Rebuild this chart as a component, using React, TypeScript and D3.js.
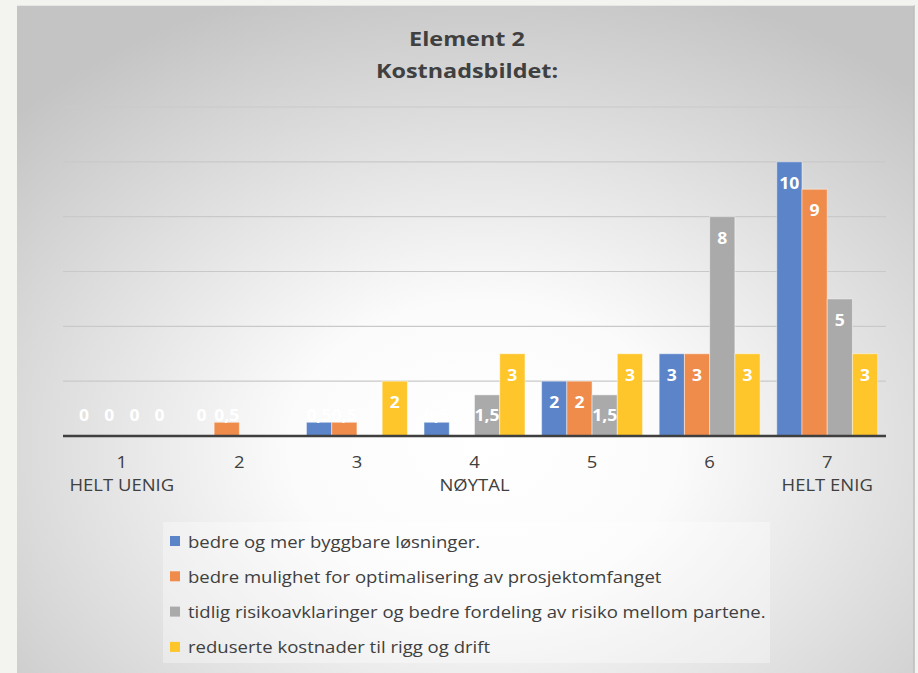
import React from "react";
import * as d3 from "d3";

const categories = ["1", "2", "3", "4", "5", "6", "7"];
const subLabels = ["HELT UENIG", "", "", "NØYTAL", "", "", "HELT ENIG"];
const seriesNames = [
  "bedre og mer byggbare løsninger.",
  "bedre mulighet for optimalisering av prosjektomfanget",
  "tidlig risikoavklaringer og bedre fordeling av risiko mellom partene.",
  "reduserte kostnader til rigg og drift",
];
const seriesColors = ["#5b84c9", "#ef8c4c", "#aaaaaa", "#fec62a"];
const s1: (number | null)[] = [0, 0, 0.5, 0.5, 2, 3, 10];
const s2: (number | null)[] = [0, 0.5, 0.5, null, 2, 3, 9];
const s3: (number | null)[] = [0, null, null, 1.5, 1.5, 8, 5];
const s4: (number | null)[] = [0, null, 2, 3, 3, 3, 3];
const seriesValues = [s1, s2, s3, s4];
const yTicks = [0, 2, 4, 6, 8, 10, 12];
const titleLines = ["Element 2", "Kostnadsbildet:"];

const W = 918;
const H = 673;
const FONT = "'Open Sans', 'DejaVu Sans', sans-serif";

function T(props: {
  x: number;
  y: number;
  sx: number;
  size: number;
  weight?: number;
  fill: string;
  anchor?: string;
  children: React.ReactNode;
}) {
  return (
    <text
      transform={`translate(${props.x},${props.y}) scale(${props.sx},1)`}
      textAnchor={props.anchor || "start"}
      dominantBaseline="central"
      fontFamily={FONT}
      fontWeight={props.weight || 400}
      fontSize={props.size}
      fill={props.fill}
    >
      {props.children}
    </text>
  );
}

export default function App() {
  const x = d3.scaleBand<string>().domain(categories).range([63, 886]).padding(0);
  const xi = d3
    .scaleBand<number>()
    .domain([0, 1, 2, 3])
    .range([0, x.bandwidth()])
    .paddingInner(0)
    .paddingOuter(0.33);
  const y = d3.scaleLinear().domain([0, 12]).range([436, 107]);
  const fmt = (v: number) => String(v).replace(".", ",");

  return (
    <svg
      width={W}
      height={H}
      style={{ position: "absolute", left: 0, top: 0 }}
      viewBox={`0 0 ${W} ${H}`}
    >
      <defs>
        <radialGradient id="bg" cx="0.52" cy="0.66" r="0.72" fx="0.52" fy="0.66">
          <stop offset="0" stopColor="#ffffff" />
          <stop offset="0.3" stopColor="#fbfbfb" />
          <stop offset="1" stopColor="#c4c4c4" />
        </radialGradient>
      </defs>
      <rect x={0} y={0} width={W} height={H} fill="#f3f4ef" />
      <rect x={17} y={5} width={897} height={H - 5} fill="url(#bg)" />
      <line x1={914} x2={914} y1={5} y2={H} stroke="#bcbcbc" strokeWidth={1.5} />
      <line x1={17} x2={914} y1={5.5} y2={5.5} stroke="#e6e6e6" strokeWidth={1} />

      {titleLines.map((t, i) => (
        <T key={t} x={467} y={38 + i * 32} sx={1.17} size={20} weight={700} fill="#404040" anchor="middle">
          {t}
        </T>
      ))}

      {yTicks.slice(1).map((t) => (
        <line
          key={t}
          x1={63}
          x2={886}
          y1={y(t)}
          y2={y(t)}
          stroke="#c9c9c9"
          strokeWidth={1.2}
        />
      ))}

      {seriesValues.map((vals, si) =>
        vals.map((v, ci) => {
          if (v === null || v === 0) return null;
          const bx = (x(categories[ci]) as number) + (xi(si) as number);
          return (
            <rect
              key={`b${si}-${ci}`}
              x={bx}
              y={y(v)}
              width={xi.bandwidth()}
              height={y(0) - y(v)}
              fill={seriesColors[si]}
              stroke="rgba(255,255,255,0.45)"
              strokeWidth={1}
            />
          );
        })
      )}

      <line x1={63} x2={886} y1={y(0)} y2={y(0)} stroke="#3f3f3f" strokeWidth={2.6} />

      {seriesValues.map((vals, si) =>
        vals.map((v, ci) => {
          if (v === null) return null;
          const cx = (x(categories[ci]) as number) + (xi(si) as number) + xi.bandwidth() / 2;
          const ly = Math.min(y(v) + 21, y(0) - 21);
          return (
            <T key={`l${si}-${ci}`} x={cx} y={ly} sx={1.1} size={16} weight={700} fill="#ffffff" anchor="middle">
              {fmt(v)}
            </T>
          );
        })
      )}

      {categories.map((c, i) => {
        const cx = (x(c) as number) + x.bandwidth() / 2;
        return (
          <g key={`x${c}`}>
            <T x={cx} y={461} sx={1.12} size={16.5} fill="#404040" anchor="middle">
              {c}
            </T>
            {subLabels[i] && (
              <T x={cx} y={484} sx={1.12} size={16.5} fill="#404040" anchor="middle">
                {subLabels[i]}
              </T>
            )}
          </g>
        );
      })}

      <rect x={163} y={522} width={607} height={141} fill="#ffffff" fillOpacity={0.35} />
      {seriesNames.map((n, i) => (
        <g key={n}>
          <rect x={170} y={541 + i * 35.3 - 5} width={10} height={10} fill={seriesColors[i]} />
          <T x={188} y={541 + i * 35.3} sx={1.125} size={16.5} fill="#404040">
            {n}
          </T>
        </g>
      ))}
    </svg>
  );
}
